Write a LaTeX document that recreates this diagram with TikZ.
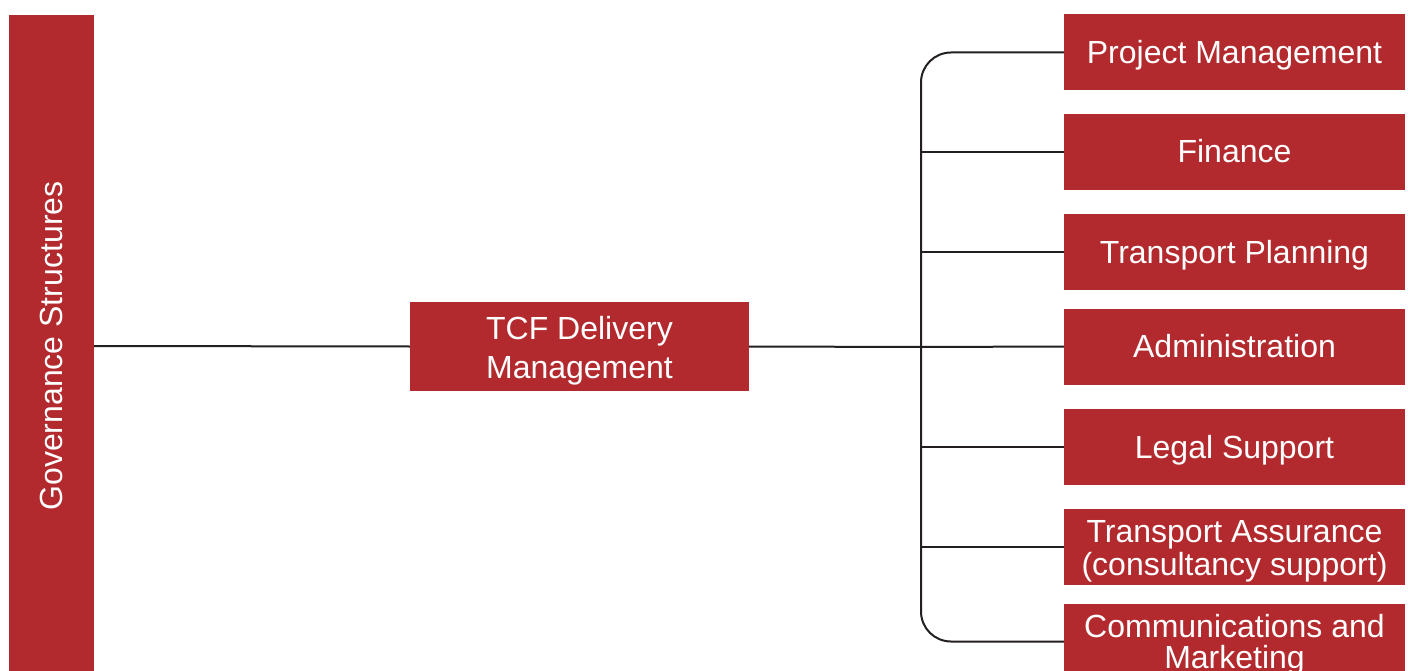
\documentclass[tikz,border=0pt]{standalone}
\usepackage{fontspec}
\setmainfont{Liberation Sans}
\definecolor{boxred}{HTML}{B22A2E}
\definecolor{linec}{HTML}{231F20}
\begin{document}
\begin{tikzpicture}[x=1pt,y=-1pt,
  redbox/.style={rectangle,fill=boxred,inner sep=0pt},
  side/.style={redbox,minimum width=341pt,minimum height=76pt},
  txt/.style={text=white,inner sep=0pt,font=\fontsize{32}{32}\selectfont,align=center},
  one/.style={txt,text height=29pt,text depth=7pt},
  conn/.style={draw=linec,line width=2pt}]
\useasboundingbox (0,0) rectangle (1408,671);
\fill[white] (0,0) rectangle (1408,671);
% boxes
\node[redbox,minimum width=85pt,minimum height=662pt] (gov) at (51.5,346) {};
\node[redbox,minimum width=339pt,minimum height=89pt] (tcf) at (579.5,346.5) {};
\node[side] (pm) at (1234.5,52.5) {};
\node[side] (fin) at (1234.5,152) {};
\node[side] (tp) at (1234.5,252) {};
\node[side] (adm) at (1234.5,346.5) {};
\node[side] (leg) at (1234.5,447) {};
\node[side] (ta) at (1234.5,547) {};
\node[side] (cm) at (1234.5,641.5) {};
% texts
\node[one,rotate=90] (govt) at (gov.center) {Governance Structures};
\node[txt,font=\fontsize{32}{39}\selectfont] (tcft) at ([yshift=-4.5pt]tcf.center) {TCF Delivery\\Management};
\node[one] (pmt) at (pm.center) {Project Management};
\node[one] (fint) at (fin.center) {Finance};
\node[one] (tpt) at (tp.center) {Transport Planning};
\node[one] (admt) at (adm.center) {Administration};
\node[one] (legt) at (leg.center) {Legal Support};
\node[txt,font=\fontsize{32}{33}\selectfont] (tat) at ([yshift=-4.5pt]ta.center) {Transport Assurance\\(consultancy support)};
\node[txt,font=\fontsize{32}{31}\selectfont] (cmt) at ([yshift=-3pt]cm.center) {Communications and\\Marketing};
% connectors
\coordinate (bx) at (921,347);
\draw[conn] (gov.east) -- (tcf.west);
\draw[conn] (tcf.east) -- (bx) -- (adm.west);
\draw[conn,rounded corners=30pt] (pm.west) -| (bx) |- (cm.west);
\draw[conn] (bx |- fin.west) -- (fin.west);
\draw[conn] (bx |- tp.west) -- (tp.west);
\draw[conn] (bx |- leg.west) -- (leg.west);
\draw[conn] (bx |- ta.west) -- (ta.west);
\end{tikzpicture}
\end{document}
